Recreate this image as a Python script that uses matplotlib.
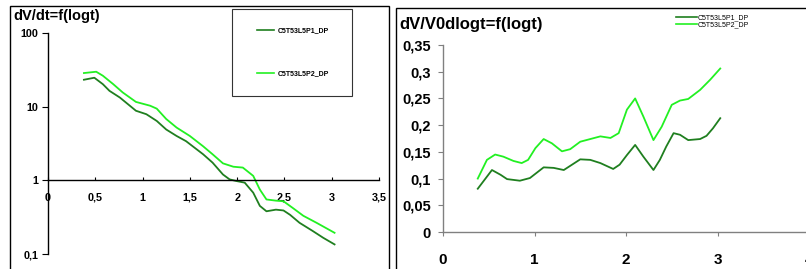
import matplotlib
matplotlib.use("Agg")
import matplotlib.pyplot as plt
from matplotlib.patches import Rectangle
from matplotlib.lines import Line2D

plt.rcParams['font.family'] = ['Liberation Sans', 'DejaVu Sans']

# ---- data: left chart dV/dt = f(logt) ----
x1_left = [0.38, 0.49, 0.58, 0.65, 0.76, 0.93, 1.04, 1.15, 1.25, 1.36, 1.46, 1.53, 1.64, 1.74,
           1.85, 1.92, 1.99, 2.08, 2.17, 2.24, 2.31, 2.41, 2.49, 2.56, 2.66, 2.80, 2.91, 3.03]
y1_left = [23.2, 24.7, 20.2, 16.4, 13.3, 8.8, 7.9, 6.4, 4.9, 4.0, 3.4, 2.9, 2.26, 1.74,
           1.2, 1.03, 0.98, 0.93, 0.68, 0.45, 0.38, 0.40, 0.39, 0.34, 0.265, 0.205, 0.166, 0.135]
x2_left = [0.38, 0.51, 0.58, 0.69, 0.79, 0.93, 1.08, 1.15, 1.25, 1.36, 1.50, 1.64, 1.74, 1.85,
           1.96, 2.06, 2.17, 2.24, 2.31, 2.41, 2.49, 2.59, 2.70, 2.84, 3.03]
y2_left = [28.6, 29.8, 26.3, 20.2, 15.6, 11.6, 10.3, 9.4, 6.8, 5.2, 4.0, 2.9, 2.26, 1.70,
           1.53, 1.49, 1.15, 0.75, 0.55, 0.53, 0.52, 0.42, 0.33, 0.265, 0.194]

# ---- data: right chart dV/V0dlogt = f(logt) ----
x1_right = [0.38, 0.535, 0.63, 0.70, 0.84, 0.95, 1.10, 1.21, 1.32, 1.50, 1.61, 1.72, 1.86, 1.93,
            2.01, 2.10, 2.19, 2.30, 2.37, 2.44, 2.52, 2.59, 2.68, 2.81, 2.88, 2.95, 3.03]
y1_right = [0.081, 0.116, 0.107, 0.099, 0.096, 0.101, 0.121, 0.120, 0.116, 0.136, 0.135, 0.129,
            0.118, 0.126, 0.144, 0.163, 0.141, 0.116, 0.135, 0.160, 0.185, 0.182, 0.172, 0.174,
            0.180, 0.194, 0.213]
x2_right = [0.38, 0.48, 0.57, 0.66, 0.77, 0.86, 0.93, 1.01, 1.10, 1.19, 1.30, 1.39, 1.50, 1.61,
            1.72, 1.83, 1.92, 2.01, 2.10, 2.19, 2.30, 2.39, 2.50, 2.59, 2.68, 2.81, 2.92, 3.03]
y2_right = [0.100, 0.135, 0.145, 0.141, 0.133, 0.129, 0.135, 0.157, 0.174, 0.166, 0.151, 0.155,
            0.169, 0.174, 0.179, 0.176, 0.185, 0.229, 0.250, 0.216, 0.172, 0.197, 0.238, 0.246,
            0.249, 0.266, 0.285, 0.306]

series_labels = ["C5T53L5P1_DP", "C5T53L5P2_DP"]
left_xticks = [0, 0.5, 1, 1.5, 2, 2.5, 3, 3.5]
left_xticklabels = ["0", "0,5", "1", "1,5", "2", "2,5", "3", "3,5"]
left_yticks = [0.1, 1, 10, 100]
left_yticklabels = ["0,1", "1", "10", "100"]
right_xticks = [0, 1, 2, 3, 4]
right_xticklabels = ["0", "1", "2", "3", "4"]
right_yticks = [0, 0.05, 0.1, 0.15, 0.2, 0.25, 0.3, 0.35]
right_yticklabels = ["0", "0,05", "0,1", "0,15", "0,2", "0,25", "0,3", "0,35"]

DARK = '#1f7f1f'
LIGHT = '#22f022'

W, H = 806, 269
fig = plt.figure(figsize=(W / 100, H / 100), dpi=100)


def fx(px):
    return px / W


def fy(py):
    return 1 - py / H


# panel borders
fig.patches.append(Rectangle((fx(10), fy(275)), fx(379), (275 - 6) / H, transform=fig.transFigure,
                             fill=False, edgecolor='black', linewidth=1.0))
fig.patches.append(Rectangle((fx(396), fy(275)), fx(420), (275 - 8) / H, transform=fig.transFigure,
                             fill=False, edgecolor='black', linewidth=1.0))

# ---------- left chart ----------
axL = fig.add_axes([fx(48), fy(254), fx(379 - 48), (254 - 33) / H])
axL.set_yscale('log')
axL.plot(x1_left, y1_left, color=DARK, lw=1.3)
axL.plot(x2_left, y2_left, color=LIGHT, lw=1.3)
axL.set_xlim(0, 3.5)
axL.set_ylim(0.1, 100)
axL.patch.set_visible(False)
for s in ['top', 'right']:
    axL.spines[s].set_visible(False)
axL.spines['bottom'].set_position(('data', 1))
axL.spines['bottom'].set_linewidth(1.0)
axL.spines['left'].set_linewidth(1.0)
axL.set_xticks(left_xticks)
axL.set_xticklabels(left_xticklabels, fontsize=7.8, fontweight='bold')
axL.set_yticks(left_yticks)
axL.set_yticklabels(left_yticklabels, fontsize=7.8, fontweight='bold')
axL.yaxis.set_minor_locator(matplotlib.ticker.NullLocator())
axL.tick_params(axis='x', direction='in', length=2.5, pad=9)
axL.tick_params(axis='y', direction='out', length=4, pad=3)
fig.text(fx(13), fy(16), "dV/dt=f(logt)", fontsize=10.5, fontweight='bold', va='center', ha='left')

# left legend
fig.patches.append(Rectangle((fx(232), fy(96)), fx(120), (96 - 9) / H, transform=fig.transFigure,
                             fill=False, edgecolor='#333333', linewidth=0.8))
handles = [Line2D([], [], color=DARK, lw=1.2), Line2D([], [], color=LIGHT, lw=1.2)]
legL = fig.legend(handles, series_labels, loc='center', bbox_to_anchor=(fx(293), fy(52.5)),
                  frameon=False, prop={'size': 5, 'weight': 'bold'}, labelspacing=5.2,
                  handlelength=2.4, handletextpad=0.5)

# ---------- right chart ----------
axR = fig.add_axes([fx(443), fy(232), fx(809 - 443), (232 - 45) / H])
axR.plot(x1_right, y1_right, color=DARK, lw=1.3)
axR.plot(x2_right, y2_right, color=LIGHT, lw=1.3)
axR.set_xlim(0, 4)
axR.set_ylim(0, 0.35)
axR.patch.set_visible(False)
for s in ['top', 'right']:
    axR.spines[s].set_visible(False)
for s in ['bottom', 'left']:
    axR.spines[s].set_color('#808080')
    axR.spines[s].set_linewidth(1.0)
axR.set_xticks(right_xticks)
axR.set_xticklabels(right_xticklabels, fontsize=11, fontweight='bold')
axR.set_yticks(right_yticks)
axR.set_yticklabels(right_yticklabels, fontsize=10.5, fontweight='bold')
axR.tick_params(axis='x', direction='out', length=3, pad=12, color='#808080')
axR.tick_params(axis='y', direction='out', length=3.6, pad=5, color='#808080')
fig.text(fx(399), fy(25), "dV/V0dlogt=f(logt)", fontsize=12, fontweight='bold', va='center', ha='left')

legR = fig.legend(handles, series_labels, loc='center left', bbox_to_anchor=(fx(673), fy(21.5)),
                  frameon=False, prop={'size': 5}, labelspacing=0.05,
                  handlelength=3.0, handletextpad=0.1, borderpad=0)

fig.savefig("out.png", dpi=100)
